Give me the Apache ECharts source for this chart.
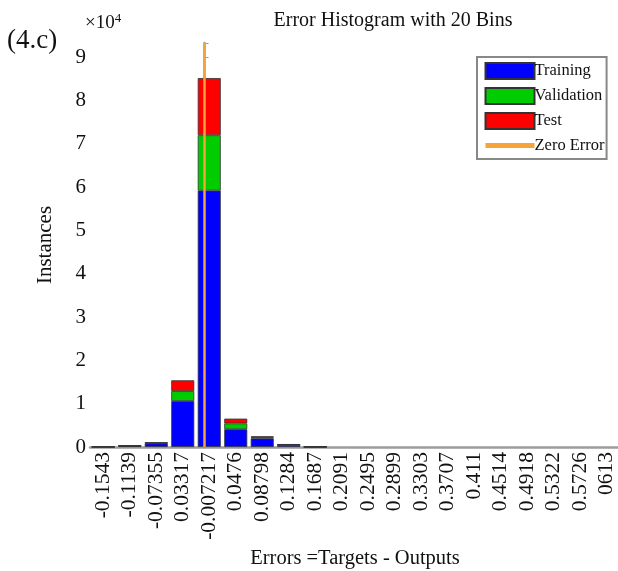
<!DOCTYPE html>
<html><head><meta charset="utf-8">
<script src="https://cdn.jsdelivr.net/npm/echarts@6/dist/echarts.min.js"></script>
<style>html,body{margin:0;padding:0;background:#fff}#c{width:618px;height:571px}</style>
</head><body><div id="c"></div>
<script>
const categories = ['-0.1543','-0.1139','-0.07355','0.03317','-0.007217','0.0476','0.08798','0.1284','0.1687','0.2091','0.2495','0.2899','0.3303','0.3707','0.411','0.4514','0.4918','0.5322','0.5726','0613'];
const training   = [30, 250, 850, 10600, 59200, 4100, 2000, 480, 20, 0, 0, 0, 0, 0, 0, 0, 0, 0, 0, 0];
const validation = [5, 40, 100, 2300, 12800, 1350, 250, 70, 5, 0, 0, 0, 0, 0, 0, 0, 0, 0, 0, 0];
const test       = [5, 30, 80, 2500, 13200, 1100, 220, 60, 5, 0, 0, 0, 0, 0, 0, 0, 0, 0, 0, 0];
const binMin = -0.1745, binMax = 0.6331;   // error range covered by the 20 bins
const yMax = 93300;
const zeroError = 0;

const FONT = '"Liberation Serif", "Times New Roman", serif';
const axisGray = '#9c9c9c';
const hideEmpty = arr => arr.map(v => (v === 0 ? '-' : v));
const chart = echarts.init(document.getElementById('c'));
const barStyle = c => ({ color: c, borderColor: '#333', borderWidth: 0.8 });
chart.setOption({
  animation: false,
  backgroundColor: '#fff',
  grid: { left: 90, right: -2, top: 43, bottom: 124, containLabel: false, outerBoundsMode: 'none' },
  graphic: [
    { type: 'text', left: 7, top: 27, style: { text: '(4.c)', font: '27px ' + FONT, fill: '#111' } },
    { type: 'text', left: 85, top: 12, style: { text: '×10{s|4}', font: '19px ' + FONT, fill: '#111',
        rich: { s: { fontSize: 13, fontFamily: FONT, verticalAlign: 'top', padding: [0,0,9,0] } } } },
    { type: 'text', x: 393, y: 21, style: { text: 'Error Histogram with 20 Bins', font: '20px ' + FONT, fill: '#111', align: 'center', verticalAlign: 'middle' } }
  ],
  legend: {
    orient: 'vertical', left: 477, top: 57,
    padding: [5, 2, 5, 6], itemGap: 7, itemWidth: 49, itemHeight: 16,
    borderColor: '#888', borderWidth: 2, backgroundColor: '#fff',
    textStyle: { fontFamily: FONT, fontSize: 16.5, color: '#111', padding: [0,0,0,-5] },
    data: [
      { name: 'Training', icon: 'rect' },
      { name: 'Validation', icon: 'rect' },
      { name: 'Test', icon: 'rect' },
      { name: 'Zero Error', lineStyle: { width: 5 }, itemStyle: { opacity: 0 } }
    ]
  },
  xAxis: [
    { type: 'category', data: categories, boundaryGap: true,
      name: 'Errors =Targets - Outputs', nameLocation: 'middle', nameGap: 94,
      nameTextStyle: { fontFamily: FONT, fontSize: 20.5, color: '#111' },
      axisLine: { lineStyle: { color: axisGray, width: 2.5 } },
      axisTick: { alignWithLabel: true, inside: true, length: 4, lineStyle: { color: axisGray } },
      axisLabel: { rotate: 90, interval: 0, margin: 5, fontFamily: FONT, fontSize: 21.5, color: '#111' },
      splitLine: { show: false } },
    { type: 'value', min: binMin, max: binMax, show: false, splitLine: { show: false } }
  ],
  yAxis: {
    type: 'value', min: 0, max: yMax, interval: 10000,
    name: 'Instances', nameLocation: 'middle', nameGap: 34,
    nameTextStyle: { fontFamily: FONT, fontSize: 21, color: '#111' },
    axisLine: { show: true, lineStyle: { color: axisGray, width: 2.5 } },
    axisTick: { show: true, inside: true, length: 4, lineStyle: { color: axisGray } },
    axisLabel: { margin: 4, fontFamily: FONT, fontSize: 21, color: '#111',
      formatter: v => (v % 10000 === 0 ? String(v / 10000) : '') },
    splitLine: { show: false }
  },
  series: [
    { name: 'Training', type: 'bar', stack: 'h', data: hideEmpty(training), barWidth: 23, itemStyle: barStyle('#0000ff') },
    { name: 'Validation', type: 'bar', stack: 'h', data: hideEmpty(validation), barWidth: 23, itemStyle: barStyle('#00cc00') },
    { name: 'Test', type: 'bar', stack: 'h', data: hideEmpty(test), barWidth: 23, itemStyle: barStyle('#ff0000') },
    { name: 'Zero Error', type: 'line', xAxisIndex: 1, symbol: 'none', z: 5, clip: false,
      data: [[zeroError, 0], [zeroError, yMax]],
      lineStyle: { color: '#f6a33a', width: 2.5 }, itemStyle: { color: '#f6a33a' } }
  ]
});
</script></body></html>
